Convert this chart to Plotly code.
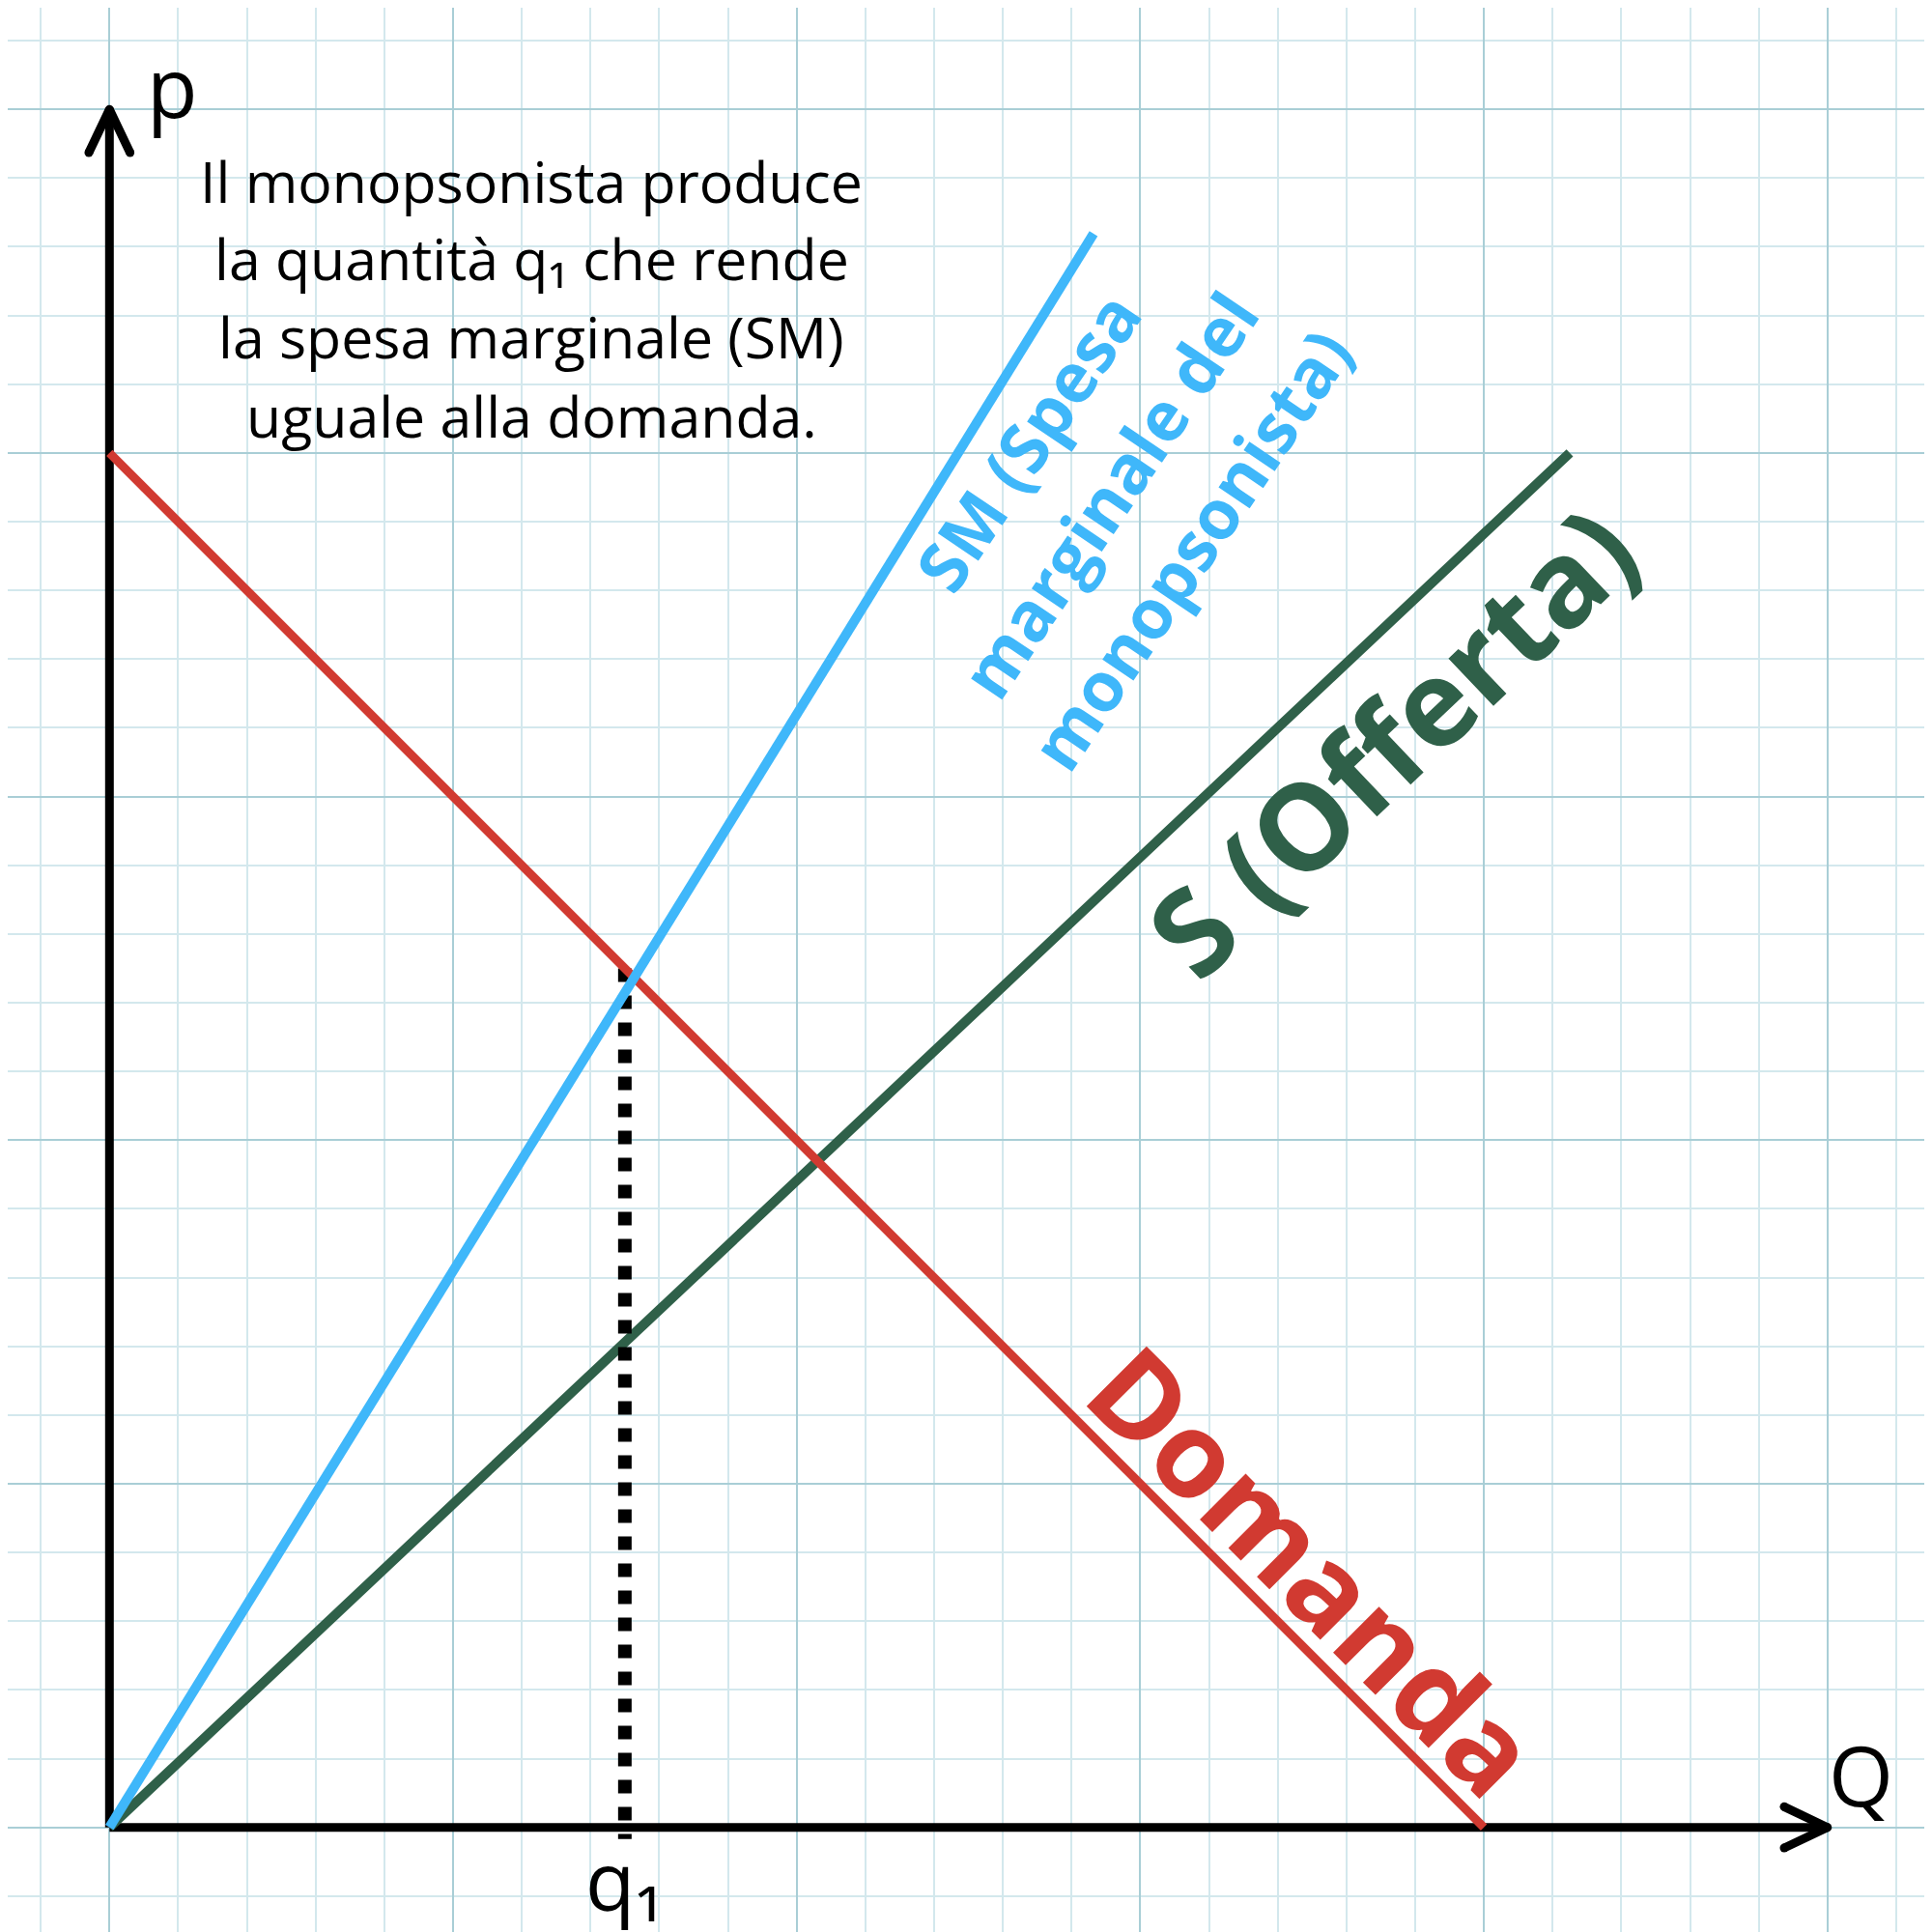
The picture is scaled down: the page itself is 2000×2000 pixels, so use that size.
import plotly.graph_objects as go

# ---------------- data (units = one small grid square) ----------------
axis_max = 25
demand_x = [0, 20]
demand_y = [20, 0]
supply_x = [0, 21.25]
supply_y = [0, 20]
sm_x = [0, 14.32]
sm_y = [0, 23.19]
q1 = 7.5
q1_price = 12.5

text_lines = ["Il monopsonista produce",
              "la quantità q₁ che rende",
              "la spesa marginale (SM)",
              "uguale alla domanda."]
sm_label_lines = ["SM (Spesa", "marginale del", "monopsonista)"]
supply_label = "S (Offerta)"
demand_label = "Domanda"

# ---------------- style ----------------
PX = 71.14              # pixels per grid unit
X0, Y0 = 113.3, 1891.7  # page-pixel position of the origin
BODY = 8                # default page margin of the html body
W = H = 2000
FONT = "Open Sans"
RED = "#d13a31"
BLUE = "#3fb7fa"
GREEN = "#2f6049"
MINOR = "#d3e8ed"
MAJOR = "#a9ced6"


def ux(px):
    return (px - X0) / PX


def uy(py):
    return (Y0 - py) / PX


fig = go.Figure()

# axes with open arrow heads
arrow_len, arrow_half = 0.63, 0.30
ax_style = dict(color="black", width=9)
fig.add_trace(go.Scatter(x=[0, axis_max], y=[0, 0], mode="lines", line=ax_style, hoverinfo="skip"))
fig.add_trace(go.Scatter(x=[0, 0], y=[0, axis_max], mode="lines", line=ax_style, hoverinfo="skip"))
fig.add_trace(go.Scatter(x=[axis_max - arrow_len, axis_max, axis_max - arrow_len],
                         y=[arrow_half, 0, -arrow_half], mode="lines+markers", line=ax_style,
                         marker=dict(size=9, color="black"), hoverinfo="skip"))
fig.add_trace(go.Scatter(x=[-arrow_half, 0, arrow_half],
                         y=[axis_max - arrow_len, axis_max, axis_max - arrow_len],
                         mode="lines+markers", line=ax_style,
                         marker=dict(size=9, color="black"), hoverinfo="skip"))

# curves
fig.add_trace(go.Scatter(x=supply_x, y=supply_y, mode="lines",
                         line=dict(color=GREEN, width=10), hoverinfo="skip"))
fig.add_trace(go.Scatter(x=[q1, q1], y=[q1_price, -0.17], mode="lines",
                         line=dict(color="black", width=14, dash="dot"), hoverinfo="skip"))
fig.add_trace(go.Scatter(x=demand_x, y=demand_y, mode="lines",
                         line=dict(color=RED, width=9), hoverinfo="skip"))
fig.add_trace(go.Scatter(x=sm_x, y=sm_y, mode="lines",
                         line=dict(color=BLUE, width=10), hoverinfo="skip"))

ann = []
# explanatory text block
for t, by in zip(text_lines, [186.7, 266.7, 348.4, 430.0]):
    ann.append(dict(x=ux(550), y=uy(by), text=t, showarrow=False,
                    xanchor="center", yanchor="middle",
                    font=dict(family=FONT, size=59, color="black")))

# axis labels
ann.append(dict(x=ux(178), y=uy(88), text="p", showarrow=False,
                xanchor="center", yanchor="middle",
                font=dict(family=FONT, size=86, color="black")))
ann.append(dict(x=ux(1926), y=uy(1836.6), text="Q", showarrow=False,
                xanchor="center", yanchor="middle",
                font=dict(family=FONT, size=86, color="black")))
ann.append(dict(x=q1, y=uy(1945), text="q₁", showarrow=False,
                xanchor="center", yanchor="middle",
                font=dict(family=FONT, size=84, color="black")))

# rotated curve labels
for t, (px, py) in zip(sm_label_lines, [(1063.4, 456.7), (1147.5, 511.5), (1231.7, 568.2)]):
    ann.append(dict(x=ux(px), y=uy(py), text="<b>" + t + "</b>", showarrow=False,
                    xanchor="center", yanchor="middle", textangle=-56,
                    font=dict(family=FONT, size=71, color=BLUE)))
ann.append(dict(x=ux(1439), y=uy(765), text="<b>" + supply_label + "</b>", showarrow=False,
                xanchor="center", yanchor="middle", textangle=-43.5,
                font=dict(family=FONT, size=124, color=GREEN)))
ann.append(dict(x=ux(1361), y=uy(1624), text="<b>" + demand_label + "</b>", showarrow=False,
                xanchor="center", yanchor="middle", textangle=45,
                font=dict(family=FONT, size=123, color=RED)))

axis_common = dict(showgrid=True, gridcolor=MAJOR, gridwidth=2, dtick=5, tick0=0,
                   minor=dict(dtick=1, tick0=0, showgrid=True, gridcolor=MINOR, gridwidth=1.5),
                   zeroline=False, showticklabels=False, ticks="", showline=False,
                   fixedrange=True)

fig.update_layout(
    width=W, height=H,
    margin=dict(l=0, r=0, t=0, b=0, pad=0),
    paper_bgcolor="white", plot_bgcolor="white",
    showlegend=False,
    xaxis=dict(range=[ux(BODY), ux(W + BODY)], **axis_common),
    yaxis=dict(range=[uy(H + BODY), uy(BODY)], **axis_common),
    annotations=ann,
)

fig.write_html("out.html")
